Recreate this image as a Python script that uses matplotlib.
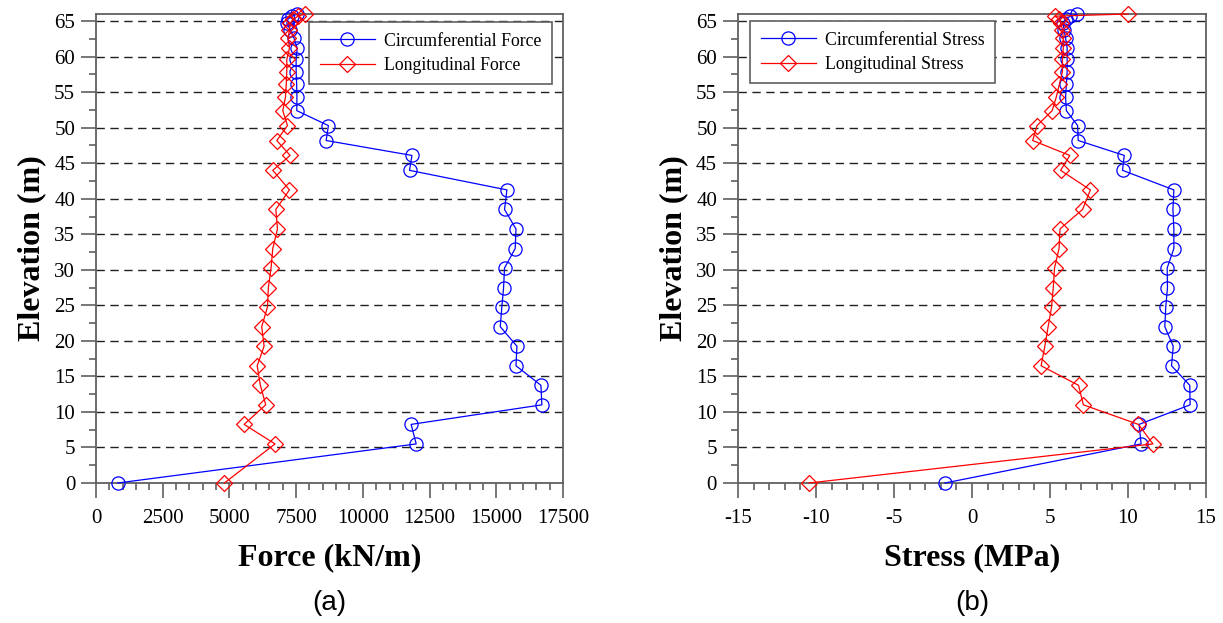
import numpy as np
import matplotlib
matplotlib.use('Agg')
import matplotlib.pyplot as plt
from matplotlib.ticker import MultipleLocator

plt.rcParams['axes.unicode_minus'] = False

# elevation of the output stations (m)
elev = [0, 5.5, 8.25, 11, 13.75, 16.5, 19.25, 22, 24.75, 27.5, 30.25, 33, 35.75,
        38.5, 41.25, 44, 46.1, 48.2, 50.3, 52.4, 54.3, 56.1, 57.9, 59.6, 61.2,
        62.6, 63.8, 64.7, 65.3, 65.7, 66.0]

# (a) forces, kN/m
circ_force = [810, 12000, 11810, 16710, 16675, 15740, 15775, 15150, 15210, 15275,
              15310, 15710, 15740, 15310, 15400, 11750, 11840, 8625, 8710, 7525,
              7530, 7520, 7500, 7500, 7540, 7420, 7280, 7150, 7200, 7350, 7550]
long_force = [4810, 6710, 5550, 6360, 6160, 6040, 6300, 6210, 6425, 6460, 6560,
              6625, 6800, 6740, 7250, 6625, 7275, 6775, 7175, 7000, 7100, 7130,
              7150, 7150, 7250, 7200, 7250, 7280, 7400, 7580, 7830]

# (b) stresses, MPa
circ_stress = [-1.74, 10.84, 10.71, 13.98, 13.96, 12.79, 12.90, 12.36, 12.42, 12.53,
               12.51, 12.94, 12.94, 12.88, 12.94, 9.65, 9.76, 6.81, 6.77, 6.05,
               6.0, 6.05, 6.1, 6.1, 6.1, 6.0, 5.9, 5.85, 6.0, 6.3, 6.7]
long_stress = [-10.45, 11.6, 10.67, 7.14, 6.83, 4.43, 4.67, 4.88, 5.10, 5.21, 5.29,
               5.58, 5.64, 7.09, 7.59, 5.68, 6.27, 3.89, 4.17, 5.14, 5.4, 5.6, 5.8,
               5.8, 5.85, 5.85, 5.8, 5.7, 5.6, 5.3, 10.0]

serif = ['Liberation Serif', 'DejaVu Serif']
spine_col = '#606060'


def style_axes(ax, xlim, xmajor, xminor, xlabel, tag):
    ax.set_xlim(*xlim)
    ax.set_ylim(0, 66)
    ax.xaxis.set_major_locator(MultipleLocator(xmajor))
    ax.xaxis.set_minor_locator(MultipleLocator(xminor))
    ax.yaxis.set_major_locator(MultipleLocator(5))
    ax.yaxis.set_minor_locator(MultipleLocator(2.5))
    ax.tick_params(which='both', direction='out', color=spine_col, width=1.2,
                   top=False, right=False, labelsize=15, labelcolor='black')
    ax.tick_params(which='major', length=11)
    ax.tick_params(which='minor', length=5)
    ax.tick_params(axis='y', which='major', pad=4)
    ax.tick_params(axis='x', which='major', pad=8)
    for lab in ax.get_xticklabels() + ax.get_yticklabels():
        lab.set_family(serif)
    for s in ax.spines.values():
        s.set_color(spine_col)
        s.set_linewidth(1.3)
    for y in range(5, 66, 5):
        ax.axhline(y, color='#202020', lw=1.0, ls=(0, (6, 4)), zorder=1)
    ax.set_xlabel(xlabel, family=serif, weight='bold', fontsize=23, labelpad=11)
    ax.set_ylabel('Elevation (m)', family=serif, weight='bold', fontsize=23,
                  labelpad=6)
    ax.text(0.5, -0.256, tag, transform=ax.transAxes, ha='center', va='center',
            family=['Liberation Sans', 'DejaVu Sans'], fontsize=20)


fig = plt.figure(figsize=(12.23, 6.23), dpi=100)
ax1 = fig.add_axes([0.0785, 0.2247, 0.3818, 0.7528])
ax2 = fig.add_axes([0.6034, 0.2247, 0.3827, 0.7528])

kw_c = dict(color='#0000ff', lw=0.9, marker='o', ms=9.5, mfc='none', mew=0.9,
            clip_on=False, zorder=3)
kw_l = dict(color='#ff0000', lw=0.9, marker='D', ms=8, mfc='none', mew=0.9,
            clip_on=False, zorder=3)
leg_kw = dict(prop={'family': serif, 'size': 12.8}, fancybox=False,
              edgecolor=spine_col, framealpha=1, handlelength=3.1,
              handletextpad=0.5, borderpad=0.6, labelspacing=0.4,
              borderaxespad=0)

ax1.plot(circ_force, elev, label='Circumferential Force', **kw_c)
ax1.plot(long_force, elev, label='Longitudinal Force', **kw_l)
style_axes(ax1, (0, 17500), 2500, 500, 'Force (kN/m)', '(a)')
leg1 = ax1.legend(loc='upper right', bbox_to_anchor=(0.976, 0.983), **leg_kw)
leg1.get_frame().set_linewidth(1.2)

ax2.plot(circ_stress, elev, label='Circumferential Stress', **kw_c)
ax2.plot(long_stress, elev, label='Longitudinal Stress', **kw_l)
style_axes(ax2, (-15, 15), 5, 1, 'Stress (MPa)', '(b)')
leg2 = ax2.legend(loc='upper left', bbox_to_anchor=(0.026, 0.985), **leg_kw)
leg2.get_frame().set_linewidth(1.2)

fig.savefig('out.png', dpi=100)
